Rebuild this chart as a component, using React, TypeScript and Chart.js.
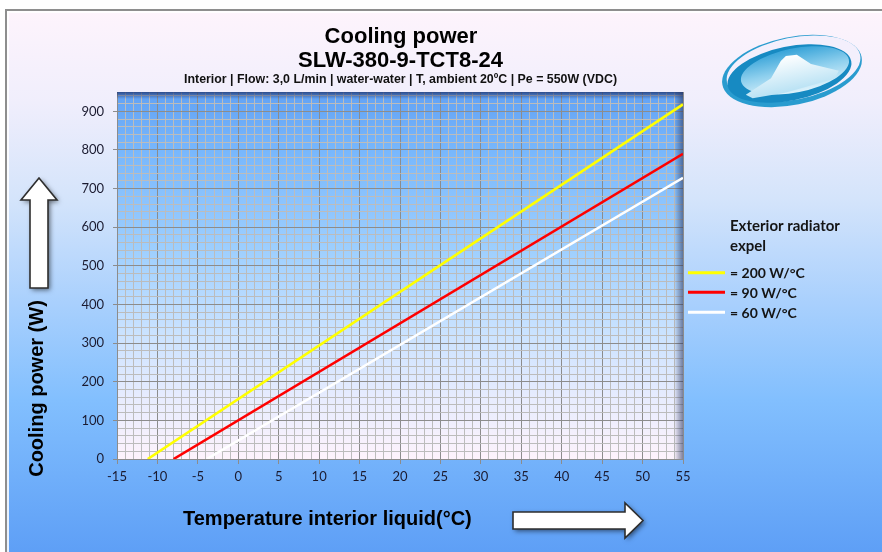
import React, { useEffect, useRef } from "react";
import { Chart, registerables } from "chart.js";

Chart.register(...registerables);

// ---- data ----
const seriesLabels = ["200 W/°C", "90 W/°C", "60 W/°C"];
const seriesColors = ["#ffff00", "#ff0000", "#ffffff"];
const temp200 = [-11.2, 55];
const power200 = [0, 918];
const temp90 = [-8.0, 55];
const power90 = [0, 790];
const temp60 = [-3.9, 55];
const power60 = [0, 728];

const xTickLabels = [-15, -10, -5, 0, 5, 10, 15, 20, 25, 30, 35, 40, 45, 50, 55];
const yTickLabels = [0, 100, 200, 300, 400, 500, 600, 700, 800, 900];

const titleLines = ["Cooling power", "SLW-380-9-TCT8-24"];
const subtitleText = "Interior | Flow: 3,0 L/min | water-water | T, ambient 20ºC | Pe = 550W (VDC)";
const xTitle = "Temperature interior liquid(°C)";
const yTitle = "Cooling power (W)";
const legendTitle = ["Exterior radiator", "expel"];

const SANS = "'Liberation Sans', Arial, sans-serif";
const CAL = "Lato, 'Open Sans', sans-serif";

function toPoints(xs: number[], ys: number[]) {
  return xs.map((x, i) => ({ x, y: ys[i] }));
}

function drawArrow(ctx: CanvasRenderingContext2D, pts: number[][]) {
  ctx.save();
  ctx.beginPath();
  pts.forEach((p, i) => (i === 0 ? ctx.moveTo(p[0], p[1]) : ctx.lineTo(p[0], p[1])));
  ctx.closePath();
  ctx.shadowColor = "rgba(0,0,0,0.55)";
  ctx.shadowBlur = 5;
  ctx.shadowOffsetX = 2;
  ctx.shadowOffsetY = 2;
  ctx.fillStyle = "#ffffff";
  ctx.fill();
  ctx.shadowColor = "transparent";
  ctx.lineWidth = 1.6;
  ctx.strokeStyle = "#2e2e2e";
  ctx.stroke();
  ctx.restore();
}

function drawLogo(ctx: CanvasRenderingContext2D) {
  ctx.save();
  ctx.translate(792, 71);
  ctx.rotate(-0.2);
  // outer swoosh
  ctx.beginPath();
  ctx.ellipse(0, 0, 71, 34, 0, 0, Math.PI * 2);
  ctx.fillStyle = "#2a9ccf";
  ctx.fill();
  ctx.beginPath();
  ctx.ellipse(2, -2, 68, 31, 0, 0, Math.PI * 2);
  ctx.fillStyle = "#f3effc";
  ctx.fill();
  // inner disc
  ctx.beginPath();
  ctx.ellipse(-3, 2, 63, 27, 0, 0, Math.PI * 2);
  ctx.fillStyle = "#178ac2";
  ctx.fill();
  const g = ctx.createLinearGradient(0, -24, 0, 24);
  g.addColorStop(0, "#2f9fd6");
  g.addColorStop(0.5, "#8fd0ee");
  g.addColorStop(1, "#e4f5fc");
  ctx.beginPath();
  ctx.ellipse(3, 0, 55, 22, 0, 0, Math.PI * 2);
  ctx.fillStyle = g;
  ctx.fill();
  // mountain
  ctx.beginPath();
  ctx.moveTo(-50, 14);
  ctx.lineTo(-22, 3);
  ctx.lineTo(-9, -12);
  ctx.lineTo(-3, -16);
  ctx.lineTo(8, -15);
  ctx.lineTo(20, -3);
  ctx.lineTo(46, 9);
  ctx.lineTo(40, 16);
  ctx.lineTo(-10, 20);
  ctx.lineTo(-44, 19);
  ctx.closePath();
  const mg = ctx.createLinearGradient(0, -16, 0, 20);
  mg.addColorStop(0, "#ffffff");
  mg.addColorStop(1, "#b9e2f4");
  ctx.fillStyle = mg;
  ctx.fill();
  ctx.restore();
}

const decorPlugin = {
  id: "decor",
  beforeDraw(chart: any) {
    const { ctx, width, height, chartArea: a } = chart;
    ctx.save();
    ctx.fillStyle = "#ffffff";
    ctx.fillRect(0, 0, width, height);
    const g = ctx.createLinearGradient(0, 10, 0, height);
    g.addColorStop(0, "#fef4fc");
    g.addColorStop(0.17, "#f0eefc");
    g.addColorStop(0.35, "#d4e4fb");
    g.addColorStop(0.54, "#a9d0fd");
    g.addColorStop(0.72, "#82bffe");
    g.addColorStop(1, "#5e9ff6");
    ctx.fillStyle = g;
    ctx.fillRect(6, 10, width - 6, height - 10);
    ctx.fillStyle = "#8e8e8e";
    ctx.fillRect(5, 9, width - 5, 2);
    ctx.fillRect(5, 9, 2, height - 9);
    ctx.fillStyle = "rgba(255,255,255,0.85)";
    ctx.fillRect(7, 11, width - 7, 2);
    ctx.fillRect(7, 11, 2, height - 11);
    // plot area
    const pg = ctx.createLinearGradient(0, a.top, 0, a.bottom);
    pg.addColorStop(0, "#62a2f4");
    pg.addColorStop(0.16, "#78b7fc");
    pg.addColorStop(0.43, "#9ecffe");
    pg.addColorStop(0.65, "#c9e2ff");
    pg.addColorStop(0.84, "#e8ecfe");
    pg.addColorStop(1, "#fdf3fc");
    ctx.fillStyle = pg;
    ctx.fillRect(a.left, a.top, a.right - a.left, a.bottom - a.top);
    ctx.restore();
  },
  beforeDatasetsDraw(chart: any) {
    const { ctx, chartArea: a } = chart;
    ctx.save();
    const tg = ctx.createLinearGradient(0, a.top, 0, a.top + 7);
    tg.addColorStop(0, "rgba(35,60,120,0.85)");
    tg.addColorStop(1, "rgba(35,60,120,0)");
    ctx.fillStyle = tg;
    ctx.fillRect(a.left, a.top, a.right - a.left, 7);
    const rg = ctx.createLinearGradient(a.right - 9, 0, a.right, 0);
    rg.addColorStop(0, "rgba(45,55,95,0)");
    rg.addColorStop(1, "rgba(45,55,95,0.6)");
    ctx.fillStyle = rg;
    ctx.fillRect(a.right - 9, a.top, 9, a.bottom - a.top);
    ctx.restore();
  },
  afterDraw(chart: any) {
    const { ctx } = chart;
    ctx.save();
    ctx.fillStyle = "#000000";
    ctx.textAlign = "center";
    ctx.textBaseline = "alphabetic";
    // titles
    ctx.font = `bold 22px ${SANS}`;
    ctx.fillText(titleLines[0], 401, 43);
    ctx.fillText(titleLines[1], 400.5, 67);
    ctx.font = `bold 12px ${SANS}`;
    const sw = ctx.measureText(subtitleText).width;
    ctx.save();
    ctx.translate(400.5, 83.3);
    ctx.scale(433 / sw, 1);
    ctx.fillStyle = "#111111";
    ctx.fillText(subtitleText, 0, 0);
    ctx.restore();
    // axis titles
    ctx.font = `bold 20px ${SANS}`;
    ctx.textAlign = "left";
    ctx.fillText(xTitle, 183, 525);
    ctx.save();
    ctx.translate(42.6, 388.5);
    ctx.rotate(-Math.PI / 2);
    ctx.textAlign = "center";
    ctx.fillText(yTitle, 0, 0);
    ctx.restore();
    // arrows
    drawArrow(ctx, [
      [39, 178], [57, 200], [48, 200], [48, 288], [30, 288], [30, 200], [21, 200],
    ]);
    drawArrow(ctx, [
      [643, 520.5], [625, 503], [625, 512], [513, 512], [513, 529], [625, 529], [625, 538],
    ]);
    // legend
    ctx.fillStyle = "#151515";
    ctx.textAlign = "left";
    ctx.font = `bold 15px ${CAL}`;
    ctx.fillText(legendTitle[0], 730, 231);
    ctx.fillText(legendTitle[1], 730, 251);
    ctx.font = `bold 14px ${CAL}`;
    ctx.textBaseline = "middle";
    const ys = [272.7, 292.3, 312.3];
    chart.data.datasets.forEach((ds: any, i: number) => {
      ctx.strokeStyle = ds.borderColor;
      ctx.lineWidth = 3;
      ctx.beginPath();
      ctx.moveTo(688, ys[i]);
      ctx.lineTo(725, ys[i]);
      ctx.stroke();
      ctx.fillStyle = "#151515";
      ctx.fillText("= " + ds.label, 730, ys[i] + 1);
    });
    drawLogo(ctx);
    ctx.restore();
  },
};

export default function App() {
  const ref = useRef<HTMLCanvasElement | null>(null);
  useEffect(() => {
    if (!ref.current) return;
    const majorGrid = "#8c8c8c";
    const minorGrid = "#bcbcbc";
    const chart = new Chart(ref.current, {
      type: "line",
      data: {
        datasets: [
          { label: seriesLabels[0], data: toPoints(temp200, power200), borderColor: seriesColors[0] },
          { label: seriesLabels[1], data: toPoints(temp90, power90), borderColor: seriesColors[1] },
          { label: seriesLabels[2], data: toPoints(temp60, power60), borderColor: seriesColors[2] },
        ].map((d) => ({ ...d, borderWidth: 2.6, pointRadius: 0, tension: 0, fill: false })),
      },
      options: {
        animation: false,
        responsive: false,
        events: [],
        layout: { padding: { top: 92, right: 199, left: 0, bottom: 0 } },
        plugins: { legend: { display: false }, title: { display: false }, tooltip: { enabled: false } },
        scales: {
          x: {
            type: "linear",
            min: -15,
            max: 55,
            afterFit: (s: any) => {
              s.height = 93;
            },
            border: { color: "#8c8c8c", width: 1 },
            grid: {
              color: (c: any) => (xTickLabels.includes(c.tick?.value) ? majorGrid : minorGrid),
              tickColor: (c: any) => (xTickLabels.includes(c.tick?.value) ? majorGrid : "rgba(0,0,0,0)"),
              tickLength: 5,
              lineWidth: 1,
            },
            ticks: {
              stepSize: 1,
              autoSkip: false,
              maxRotation: 0,
              padding: 5,
              color: "#1b1b30",
              font: { family: CAL, size: 13 },
              callback: (v: any) => (xTickLabels.includes(v) ? String(v) : ""),
            },
          },
          y: {
            type: "linear",
            min: 0,
            max: 950,
            afterFit: (s: any) => {
              s.width = 117;
            },
            border: { color: "#8c8c8c", width: 1 },
            grid: {
              color: (c: any) => (yTickLabels.includes(c.tick?.value) ? majorGrid : minorGrid),
              tickColor: (c: any) => (yTickLabels.includes(c.tick?.value) ? majorGrid : "rgba(0,0,0,0)"),
              tickLength: 4,
              lineWidth: 1,
            },
            ticks: {
              stepSize: 20,
              includeBounds: false,
              autoSkip: false,
              padding: 9,
              color: "#1b1b30",
              font: { family: CAL, size: 13 },
              callback: (v: any) => (yTickLabels.includes(v) ? String(v) : ""),
            },
          },
        },
      },
      plugins: [decorPlugin],
    } as any);
    return () => chart.destroy();
  }, []);
  return (
    <div style={{ position: "fixed", left: 0, top: 0, width: 882, height: 552 }}>
      <canvas ref={ref} width={882} height={552} style={{ display: "block", width: 882, height: 552 }} />
    </div>
  );
}
